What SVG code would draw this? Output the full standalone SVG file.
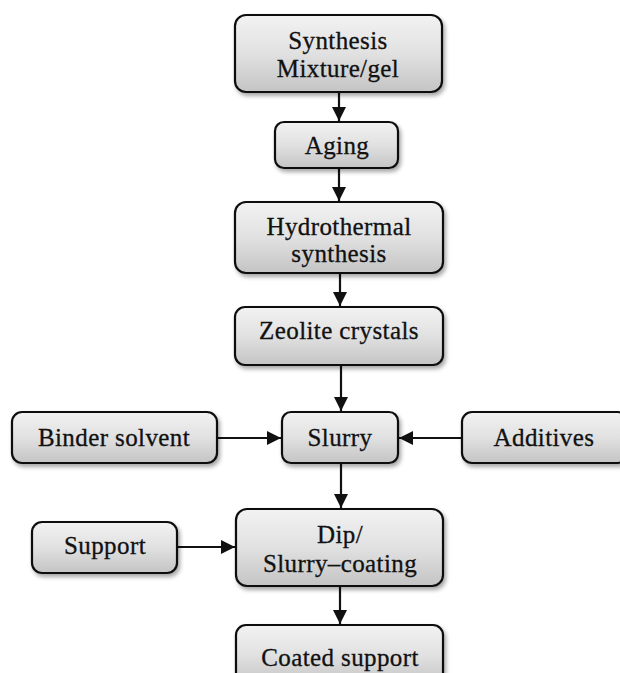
<svg xmlns="http://www.w3.org/2000/svg" width="620" height="673" viewBox="0 0 620 673">
  <style>
    .box { fill: url(#boxFill); stroke: #111; stroke-width: 2.2; filter: url(#shadow); }
    .lbl { font-family: "Liberation Serif", "Times New Roman", serif; font-size: 25px; fill: #111; stroke: #111; stroke-width: 0.3; text-anchor: middle; letter-spacing: 0.4px; }
    .edge { stroke: #111; stroke-width: 2.2; fill: none; marker-end: url(#arrow); }
  </style>
  <defs>
    <linearGradient id="boxFill" x1="0" y1="0" x2="0" y2="1">
      <stop offset="0" stop-color="#f2f2f2"/>
      <stop offset="0.5" stop-color="#e1e1e1"/>
      <stop offset="1" stop-color="#c4c4c4"/>
    </linearGradient>
    <filter id="shadow" x="-10%" y="-10%" width="130%" height="140%">
      <feDropShadow dx="2" dy="3" stdDeviation="2" flood-color="#000" flood-opacity="0.35"/>
    </filter>
    <marker id="arrow" viewBox="0 0 14 14" refX="14" refY="7" markerWidth="14" markerHeight="14" markerUnits="userSpaceOnUse" orient="auto">
      <path d="M0,0 L14,7 L0,14 Z" fill="#111"/>
    </marker>
  </defs>

  <rect width="620" height="673" fill="#fff"/>

  <!-- connectors -->
  <g id="connectors">
    <line class="edge" x1="339" y1="92" x2="339" y2="121"/>
    <line class="edge" x1="339" y1="168" x2="339" y2="201"/>
    <line class="edge" x1="340" y1="273" x2="340" y2="306"/>
    <line class="edge" x1="341" y1="365" x2="341" y2="411"/>
    <line class="edge" x1="217" y1="438" x2="281" y2="438"/>
    <line class="edge" x1="462" y1="438" x2="399" y2="438"/>
    <line class="edge" x1="341" y1="463" x2="341" y2="508"/>
    <line class="edge" x1="177" y1="547" x2="235" y2="547"/>
    <line class="edge" x1="340" y1="586" x2="340" y2="624"/>
  </g>

  <!-- nodes -->
  <g id="synthesis-mixture">
    <rect class="box" x="235" y="15" width="207" height="77" rx="11"/>
    <text class="lbl" x="338" y="49">Synthesis</text>
    <text class="lbl" x="338" y="77">Mixture/gel</text>
  </g>
  <g id="aging">
    <rect class="box" x="275" y="122" width="123" height="46" rx="9"/>
    <text class="lbl" x="337" y="154">Aging</text>
  </g>
  <g id="hydrothermal">
    <rect class="box" x="235" y="202" width="208" height="71" rx="11"/>
    <text class="lbl" x="339" y="235">Hydrothermal</text>
    <text class="lbl" x="339" y="262">synthesis</text>
  </g>
  <g id="zeolite-crystals">
    <rect class="box" x="235" y="307" width="208" height="58" rx="10"/>
    <text class="lbl" x="339" y="339">Zeolite crystals</text>
  </g>
  <g id="binder-solvent">
    <rect class="box" x="12" y="412" width="205" height="51" rx="10"/>
    <text class="lbl" x="114" y="446">Binder solvent</text>
  </g>
  <g id="slurry">
    <rect class="box" x="282" y="412" width="116" height="51" rx="9"/>
    <text class="lbl" x="340" y="446">Slurry</text>
  </g>
  <g id="additives">
    <rect class="box" x="462" y="412" width="166" height="51" rx="10"/>
    <text class="lbl" x="544" y="446">Additives</text>
  </g>
  <g id="support">
    <rect class="box" x="32" y="522" width="145" height="51" rx="10"/>
    <text class="lbl" x="105" y="554">Support</text>
  </g>
  <g id="dip-coating">
    <rect class="box" x="236" y="509" width="207" height="77" rx="11"/>
    <text class="lbl" x="340" y="543">Dip/</text>
    <text class="lbl" x="340" y="572">Slurry–coating</text>
  </g>
  <g id="coated-support">
    <rect class="box" x="236" y="625" width="207" height="60" rx="10"/>
    <text class="lbl" x="340" y="666">Coated support</text>
  </g>
</svg>
